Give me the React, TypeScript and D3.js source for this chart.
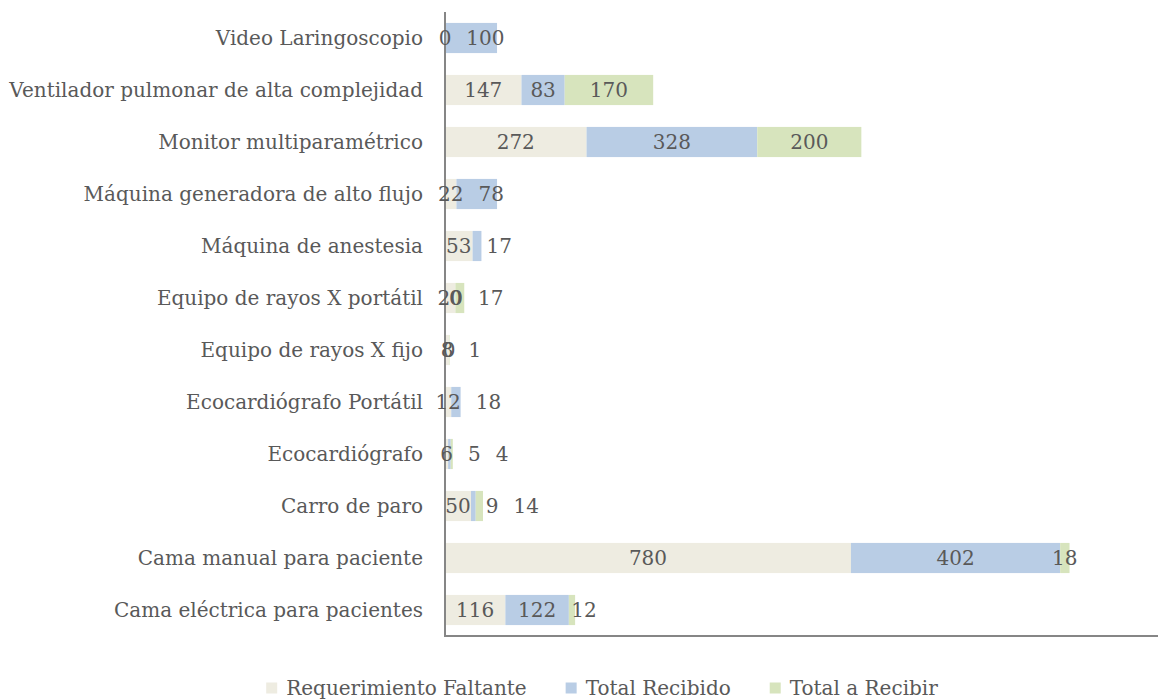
import React from "react";
import * as d3 from "d3";

const categories = [
  "Video Laringoscopio",
  "Ventilador pulmonar de alta complejidad",
  "Monitor multiparamétrico",
  "Máquina generadora de alto flujo",
  "Máquina de anestesia",
  "Equipo de rayos X portátil",
  "Equipo de rayos X fijo",
  "Ecocardiógrafo Portátil",
  "Ecocardiógrafo",
  "Carro de paro",
  "Cama manual para paciente",
  "Cama eléctrica para pacientes",
];

const seriesNames = ["Requerimiento Faltante", "Total Recibido", "Total a Recibir"];

const requerimientoFaltante: (number | null)[] = [0, 147, 272, 22, 53, 20, 8, 12, 6, 50, 780, 116];
const totalRecibido: (number | null)[] = [100, 83, 328, 78, 17, 0, 0, 18, 5, 9, 402, 122];
const totalARecibir: (number | null)[] = [null, 170, 200, null, null, 17, 1, null, 4, 14, 18, 12];

const seriesValues = [requerimientoFaltante, totalRecibido, totalARecibir];
const colors = ["#EEECE1", "#B9CDE5", "#D7E4BD"];

const FONT = '"DejaVu Serif", "Liberation Serif", serif';
const FS = 20;
const TEXT = "#595959";
const AXIS = "#868686";

function measure(text: string): number {
  const c = document.createElement("canvas").getContext("2d");
  if (!c) return text.length * FS * 0.6;
  c.font = `${FS}px ${FONT}`;
  return c.measureText(text).width;
}

export default function App() {
  const W = 1158;
  const H = 700;
  const x0 = 445;
  const yTop = 12;
  const yBottom = 636;

  const x = d3.scaleLinear().domain([0, 1370]).range([x0, 1158]);
  const y = d3
    .scaleBand<string>()
    .domain(categories)
    .range([yTop, yBottom])
    .paddingInner(0.42)
    .paddingOuter(0.21);

  const rows = categories.map((c, i) => {
    const r: any = { cat: c };
    seriesNames.forEach((s, k) => {
      r[s] = seriesValues[k][i] ?? 0;
    });
    return r;
  });
  const stacked = d3.stack<any>().keys(seriesNames)(rows);

  const GAP = 15;
  const labels: { x: number; y: number; t: string; key: string }[] = [];
  categories.forEach((c, i) => {
    let prevRight = -Infinity;
    seriesNames.forEach((s, k) => {
      const v = seriesValues[k][i];
      if (v === null || v === undefined) return;
      const seg = stacked[k][i];
      const cx = (x(seg[0]) + x(seg[1])) / 2;
      const t = String(v);
      const w = measure(t);
      let lx = cx;
      if (k > 0 && v !== 0 && cx - w / 2 < prevRight + GAP) {
        lx = prevRight + GAP + w / 2;
      }
      if (v !== 0 || k === 0) prevRight = lx + w / 2;
      labels.push({ x: lx, y: (y(c) ?? 0) + y.bandwidth() / 2, t, key: `${i}-${k}` });
    });
  });

  const sq = 11;
  const legendGap = 39;
  const items = seriesNames.map((s) => ({ s, w: sq + 9 + measure(s) }));
  const totalW = items.reduce((a, b) => a + b.w, 0) + legendGap * (items.length - 1);
  let lx0 = 602 - totalW / 2;
  const legendPos = items.map((it) => {
    const p = lx0;
    lx0 += it.w + legendGap;
    return p;
  });
  const legendY = 688;

  const T = (props: any) => (
    <text fontFamily={FONT} fontSize={FS} fill={TEXT} dy="0.35em" {...props} />
  );

  return (
    <svg width={W} height={H} style={{ position: "absolute", left: 0, top: 0, background: "#fff" }}>
      <rect x={0} y={0} width={W} height={H} fill="#fff" />
      {stacked.map((layer, k) => (
        <g key={k} fill={colors[k]}>
          {layer.map((d, i) => {
            const w = x(d[1]) - x(d[0]);
            if (w <= 0) return null;
            return (
              <rect
                key={i}
                x={x(d[0])}
                y={y(categories[i])}
                width={w}
                height={y.bandwidth()}
              />
            );
          })}
        </g>
      ))}
      <line x1={x0} x2={x0} y1={yTop} y2={yBottom} stroke={AXIS} strokeWidth={2} />
      <line x1={x0 - 1} x2={W} y1={yBottom} y2={yBottom} stroke={AXIS} strokeWidth={2} />
      {categories.map((c) => (
        <T key={c} x={423} y={(y(c) ?? 0) + y.bandwidth() / 2} textAnchor="end">
          {c}
        </T>
      ))}
      {labels.map((l) => (
        <T key={l.key} x={l.x} y={l.y} textAnchor="middle">
          {l.t}
        </T>
      ))}
      {seriesNames.map((s, k) => (
        <g key={s} transform={`translate(${legendPos[k]},${legendY})`}>
          <rect x={0} y={-sq / 2} width={sq} height={sq} fill={colors[k]} />
          <T x={sq + 9} y={0}>
            {s}
          </T>
        </g>
      ))}
    </svg>
  );
}
